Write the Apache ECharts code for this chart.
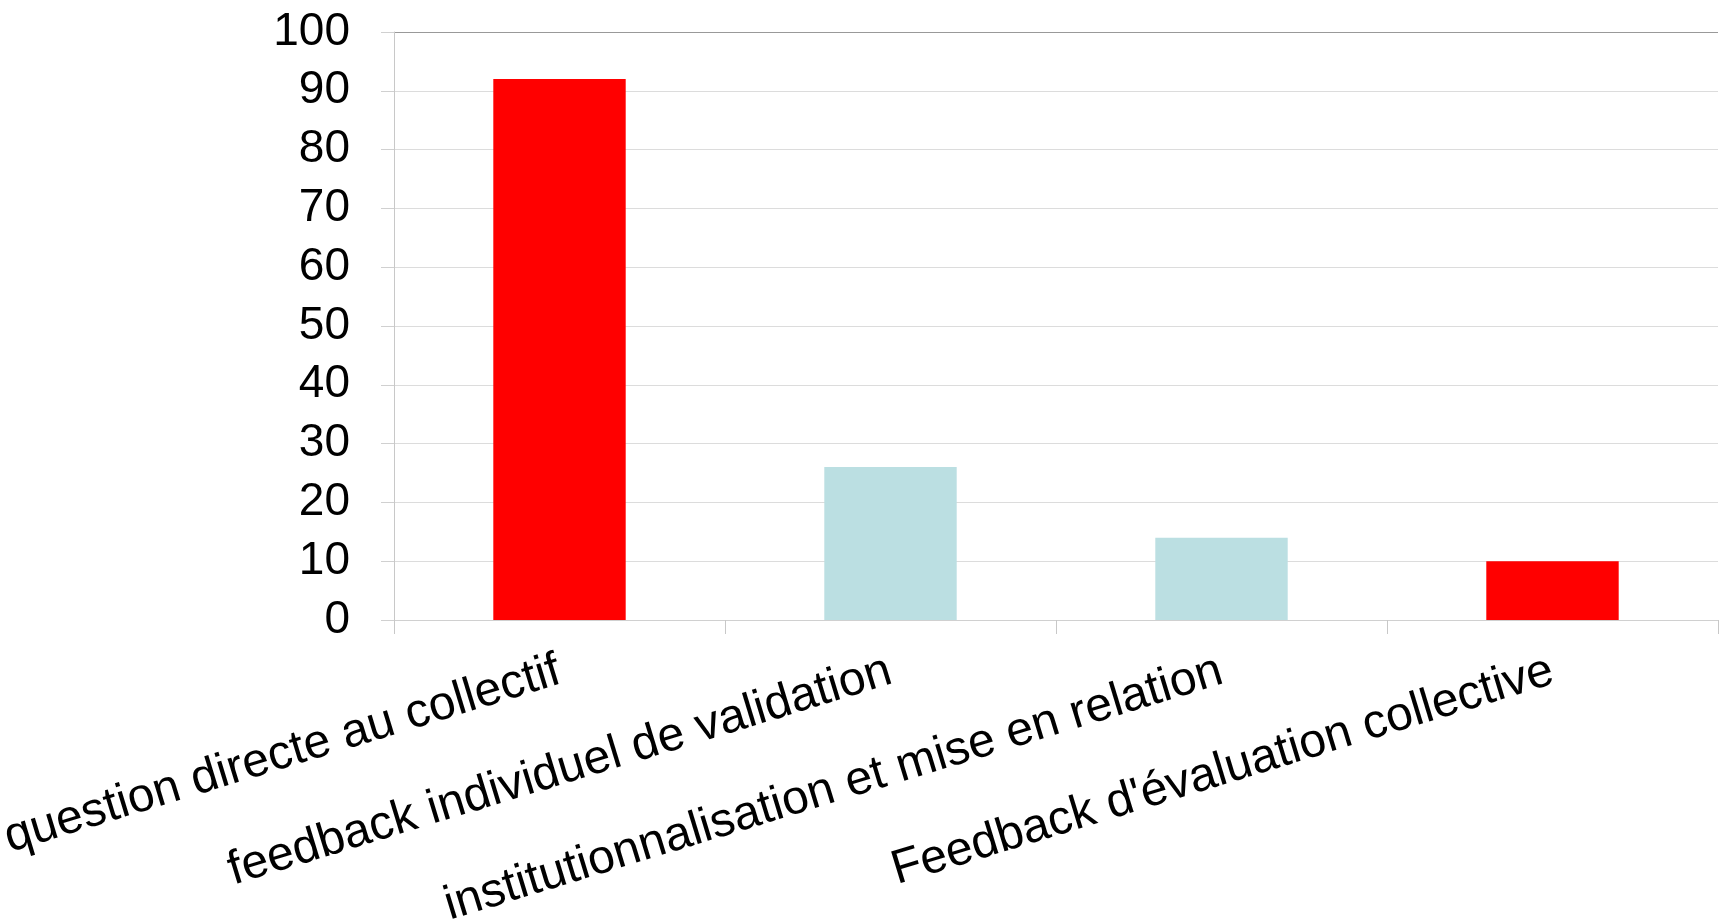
<!DOCTYPE html>
<html>
<head>
<meta charset="utf-8">
<script src="https://cdn.jsdelivr.net/npm/echarts@6/dist/echarts.min.js"></script>
<style>
html,body{margin:0;padding:0;background:#fff;}
#chart{width:1727px;height:919px;}
</style>
</head>
<body>
<div id="chart"></div>
<script>
var categories = ["question directe au collectif", "feedback individuel de validation", "institutionnalisation et mise en relation", "Feedback d'évaluation collective"];
var values = [92, 26, 14, 10];
var yTicks = [0, 10, 20, 30, 40, 50, 60, 70, 80, 90, 100];

var RED = '#FF0000', BLUE = '#BBDFE2';
var barColors = [RED, BLUE, BLUE, RED];

var gridColors = yTicks.map(function (t, i) { return i === yTicks.length - 1 ? '#999999' : '#dcdcdc'; });

var chart = echarts.init(document.getElementById('chart'), null, {renderer: 'canvas'});
chart.setOption({
  animation: false,
  backgroundColor: '#ffffff',
  grid: {left: 394, right: 9, top: 32, bottom: 299, containLabel: false, outerBoundsMode: 'none'},
  xAxis: {
    type: 'category',
    data: categories,
    axisLine: {show: true, lineStyle: {color: '#d0d0d0', width: 1}},
    axisTick: {show: true, length: 14, lineStyle: {color: '#c8c8c8'}},
    axisLabel: {
      rotate: 17,
      margin: 50,
      interval: 0,
      color: '#000',
      fontFamily: 'Liberation Sans, Arial, sans-serif',
      fontSize: 48
    }
  },
  yAxis: {
    type: 'value',
    min: yTicks[0],
    max: yTicks[yTicks.length - 1],
    interval: 10,
    axisLine: {show: true, lineStyle: {color: '#c8c8c8', width: 1}},
    axisTick: {show: true, length: 13, lineStyle: {color: '#d0d0d0'}},
    axisLabel: {
      margin: 44,
      color: '#000',
      fontFamily: 'Liberation Sans, Arial, sans-serif',
      fontSize: 46
    },
    splitLine: {show: true, lineStyle: {color: gridColors, width: 1}}
  },
  series: [{
    type: 'bar',
    barWidth: '40%',
    data: values.map(function (v, i) {
      return {value: v, itemStyle: {color: barColors[i]}};
    })
  }]
});
</script>
</body>
</html>
